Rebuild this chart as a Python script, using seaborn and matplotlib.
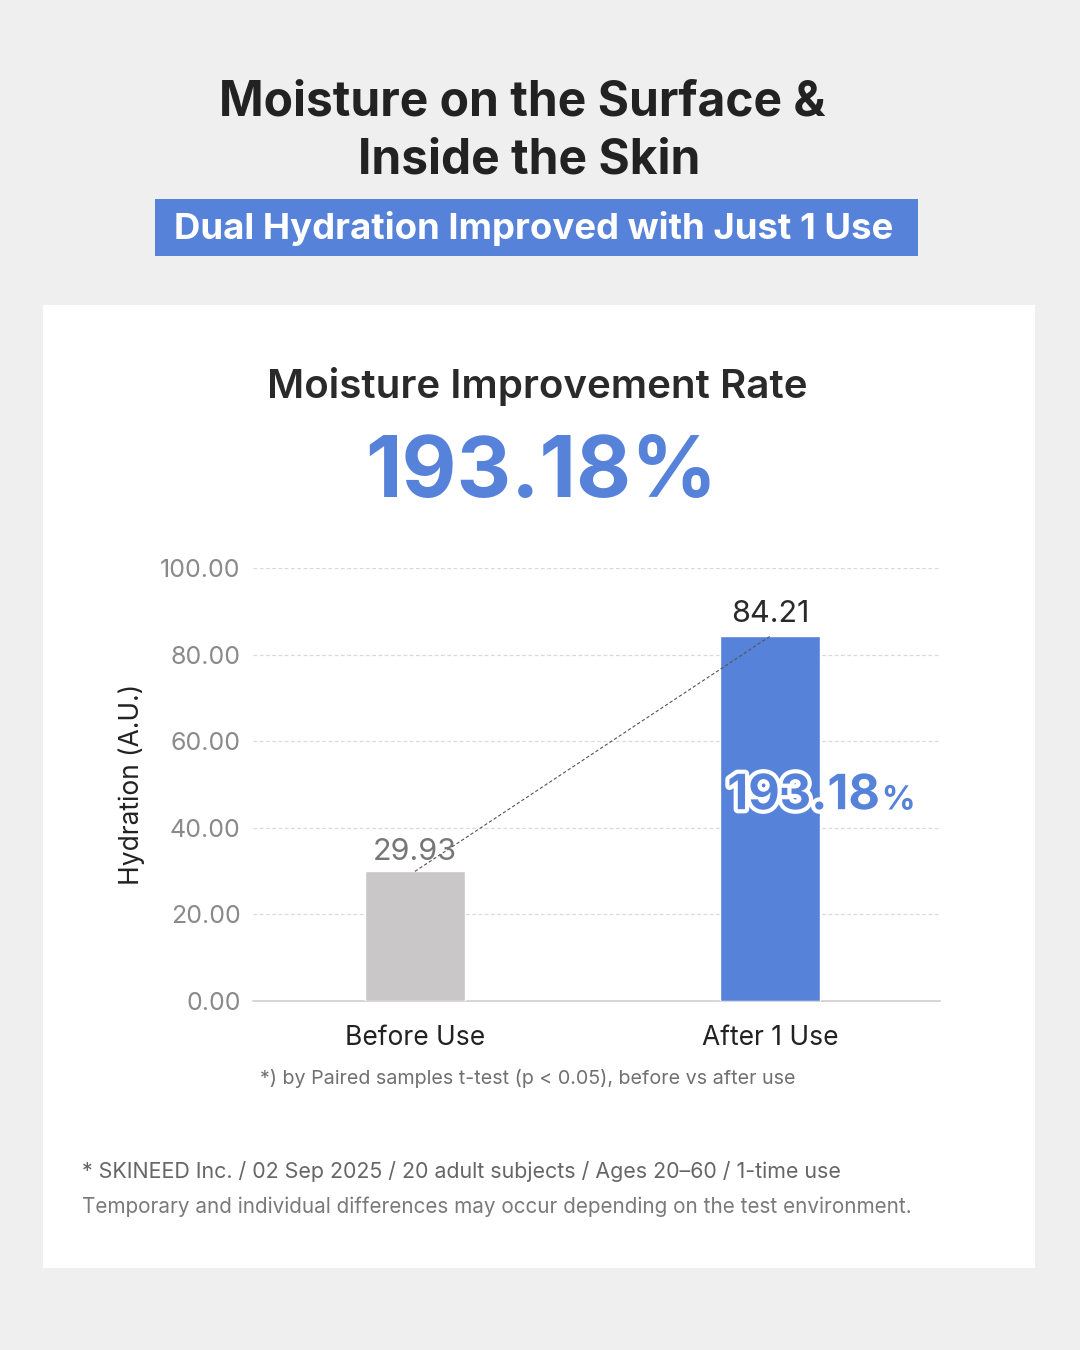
import matplotlib
matplotlib.use("Agg")
import matplotlib.pyplot as plt
import matplotlib.patheffects as pe
from matplotlib.patches import Rectangle
import seaborn as sns
import pandas as pd

# ---- data ----
categories = ["Before Use", "After 1 Use"]
hydration = [29.93, 84.21]
improvement_label = "193.18"
y_ticks = [0, 20, 40, 60, 80, 100]

title_lines = ["Moisture on the Surface &", "Inside the Skin"]
banner_text = "Dual Hydration Improved with Just 1 Use"
chart_title = "Moisture Improvement Rate"
footnote = "*) by Paired samples t-test (p < 0.05), before vs after use"
footer1 = "* SKINEED Inc. / 02 Sep 2025 / 20 adult subjects / Ages 20\u201360 / 1-time use"
footer2 = "Temporary and individual differences may occur depending on the test environment."

BLUE = "#5682da"
GRAY_BAR = "#c9c7c8"
BG = "#efefef"

sns.set_theme(style="white")
plt.rcParams["font.family"] = ["Inter", "DejaVu Sans"]

W, H = 1080, 1350
fig = plt.figure(figsize=(W / 100, H / 100), dpi=100)
fig.patch.set_facecolor(BG)

def fx(x):
    return x / W

def fy(y):
    return 1 - y / H

# white panel
fig.patches.append(Rectangle((fx(43), fy(1268)), fx(1035) - fx(43), fy(305) - fy(1268),
                             transform=fig.transFigure, facecolor="white", edgecolor="none", zorder=-2))
# blue banner
fig.patches.append(Rectangle((fx(155), fy(256)), fx(918) - fx(155), fy(199) - fy(256),
                             transform=fig.transFigure, facecolor=BLUE, edgecolor="none", zorder=-2))

fig.text(fx(522), fy(103), title_lines[0], ha="center", va="center", fontsize=34.5,
         fontweight="bold", color="#222222")
fig.text(fx(529), fy(161), title_lines[1], ha="center", va="center", fontsize=34.5,
         fontweight="bold", color="#222222")
fig.text(fx(534), fy(228), banner_text, ha="center", va="center", fontsize=26.3,
         fontweight="bold", color="white")
fig.text(fx(537), fy(387), chart_title, ha="center", va="center", fontsize=29,
         fontweight="semibold", color="#2a2a2a")
fig.text(fx(541), fy(474), improvement_label + "%", ha="center", va="center", fontsize=61,
         fontweight="bold", color=BLUE)

# axes
ax = fig.add_axes([fx(253), fy(1001), fx(940) - fx(253), fy(568) - fy(1001)])
ax.set_facecolor("none")
df = pd.DataFrame({"cat": categories, "val": hydration})
sns.barplot(data=df, x="cat", y="val", hue="cat", palette=[GRAY_BAR, BLUE],
            width=0.282, ax=ax, legend=False, saturation=1, zorder=3)
ax.set_xlim(-0.456, 1.479)
ax.set_ylim(0, 100)
ax.set_yticks(y_ticks)
ax.set_yticklabels([f"{t:.2f}" for t in y_ticks], fontsize=18, color="#8a8a8a")
ax.tick_params(axis="y", length=5, width=0.8, color="#cccccc", pad=4)
ax.tick_params(axis="x", length=0, pad=17)
for lbl in ax.get_xticklabels():
    lbl.set_fontsize(19)
    lbl.set_color("#222222")
for t in y_ticks[1:]:
    ax.axhline(t, color="#dadada", lw=0.9, ls=(0, (3, 2)), zorder=1)
for s in ["top", "right", "left"]:
    ax.spines[s].set_visible(False)
ax.spines["bottom"].set_color("#cfcfcf")
ax.spines["bottom"].set_linewidth(1.2)
ax.set_xlabel("")
ax.set_ylabel("Hydration (A.U.)", fontsize=19, color="#222222", labelpad=11)

# connector
ax.plot([0, 1], hydration, color="#555555", lw=0.8, ls=(0, (3, 2)), zorder=4)

# value labels
ax.text(0, hydration[0] + 4.5, f"{hydration[0]:.2f}", ha="center", va="center",
        fontsize=22, color="#777777", zorder=5)
ax.text(1, hydration[1] + 5.2, f"{hydration[1]:.2f}", ha="center", va="center",
        fontsize=22, color="#2a2a2a", zorder=5)

# inner big % label with white outline
stroke = [pe.withStroke(linewidth=6, foreground="white")]
ax.text(1.31, 47.3, improvement_label, ha="right", va="center", fontsize=35,
        fontweight="bold", color=BLUE, zorder=6, path_effects=stroke)
ax.text(1.315, 46.3, "%", ha="left", va="center", fontsize=24, fontweight="bold",
        color=BLUE, zorder=6, path_effects=stroke)

fig.text(fx(528), fy(1078), footnote, ha="center", va="center", fontsize=14.2, color="#707070")
fig.text(fx(82), fy(1171), footer1, ha="left", va="center", fontsize=15.4, color="#666666")
fig.text(fx(82), fy(1207), footer2, ha="left", va="center", fontsize=14.9, color="#7a7a7a")

fig.savefig("out.png", dpi=100, facecolor=BG)
